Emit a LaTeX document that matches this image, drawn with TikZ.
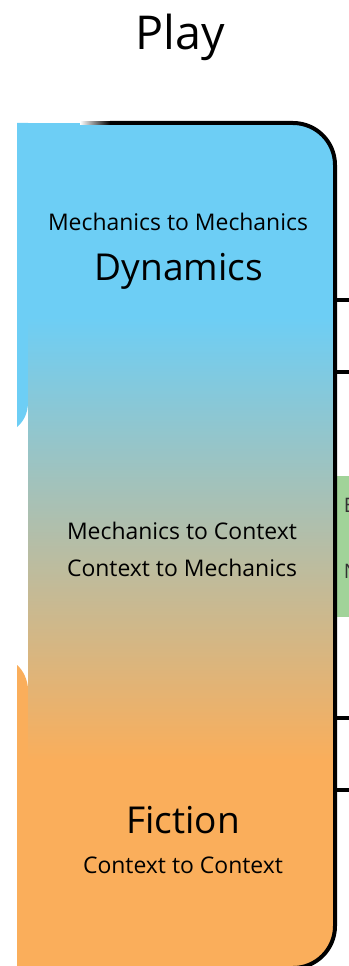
\documentclass[tikz,border=0pt]{standalone}
\usepackage{fontspec}
\setmainfont{Open Sans}
\usetikzlibrary{positioning}

\definecolor{dynblue}{RGB}{109,206,245}
\definecolor{ficorange}{RGB}{250,174,91}
\definecolor{sidegreen}{RGB}{161,211,153}

\begin{document}
\begin{tikzpicture}[x=0.75pt, y=-0.75pt,
    label/.style={anchor=base, inner sep=0pt, text=black},
    small/.style={label, font=\fontsize{17.2}{19}\selectfont},
    big/.style={label, font=\fontsize{27.8}{30}\selectfont},
    frame/.style={line width=3pt, rounded corners=31.5pt},
    stub/.style={line width=3pt}]
    \useasboundingbox (0, 0) rectangle (349, 966);
    \clip (0, 0) rectangle (349, 966);

    \node[label, font=\fontsize{35}{40}\selectfont] (title) at (180, 50) {Play};

    % left edges of the two boxes behind
    \fill[dynblue] (17, 123) -- (28, 123) -- (28, 402)
        .. controls (28, 414) and (23, 422) .. (17, 427) -- cycle;
    \fill[ficorange] (17, 665) .. controls (23, 670) and (28, 680) .. (28, 690)
        -- (28, 966) -- (17, 966) -- cycle;

    \begin{scope}
        \clip[rounded corners=31.5pt] (-100, 123) rectangle (335, 968);
        \fill[dynblue] (28, 123) rectangle (336, 318);
        \shade[top color=dynblue, bottom color=ficorange] (28, 317) rectangle (336, 760);
        \fill[ficorange] (28, 759) rectangle (336, 970);
    \end{scope}

    \coordinate (c1) at (335, 300);
    \coordinate (c2) at (335, 372);
    \coordinate (c3) at (335, 718);
    \coordinate (c4) at (335, 790);
    \draw[stub] (c1) -- (352, 300);
    \draw[stub] (c2) -- (352, 372);
    \draw[stub] (c3) -- (352, 718);
    \draw[stub] (c4) -- (352, 790);

    \fill[sidegreen] (337, 476) rectangle (352, 617);
    \node[label, anchor=base west, text=black!80, font=\fontsize{15}{18}\selectfont] (e) at (343.5, 512) {E};
    \node[label, anchor=base west, text=black!80, font=\fontsize{15}{18}\selectfont] (n) at (343.5, 578) {N};

    \shade[left color=white, right color=black] (80, 122) rectangle (110, 124.5);
    \draw[frame] (110, 123) -- (335, 123) -- (335, 968) -- (200, 968);

    \node[small] (mm) at (178, 230) {Mechanics to Mechanics};
    \node[big] (dyn) at (179, 280) {Dynamics};
    \node[small] (mc) at (182, 539) {Mechanics to Context};
    \node[small] (cm) at (182, 576) {Context to Mechanics};
    \node[big] (fic) at (183, 833) {Fiction};
    \node[small] (cc) at (183, 873) {Context to Context};
\end{tikzpicture}
\end{document}
